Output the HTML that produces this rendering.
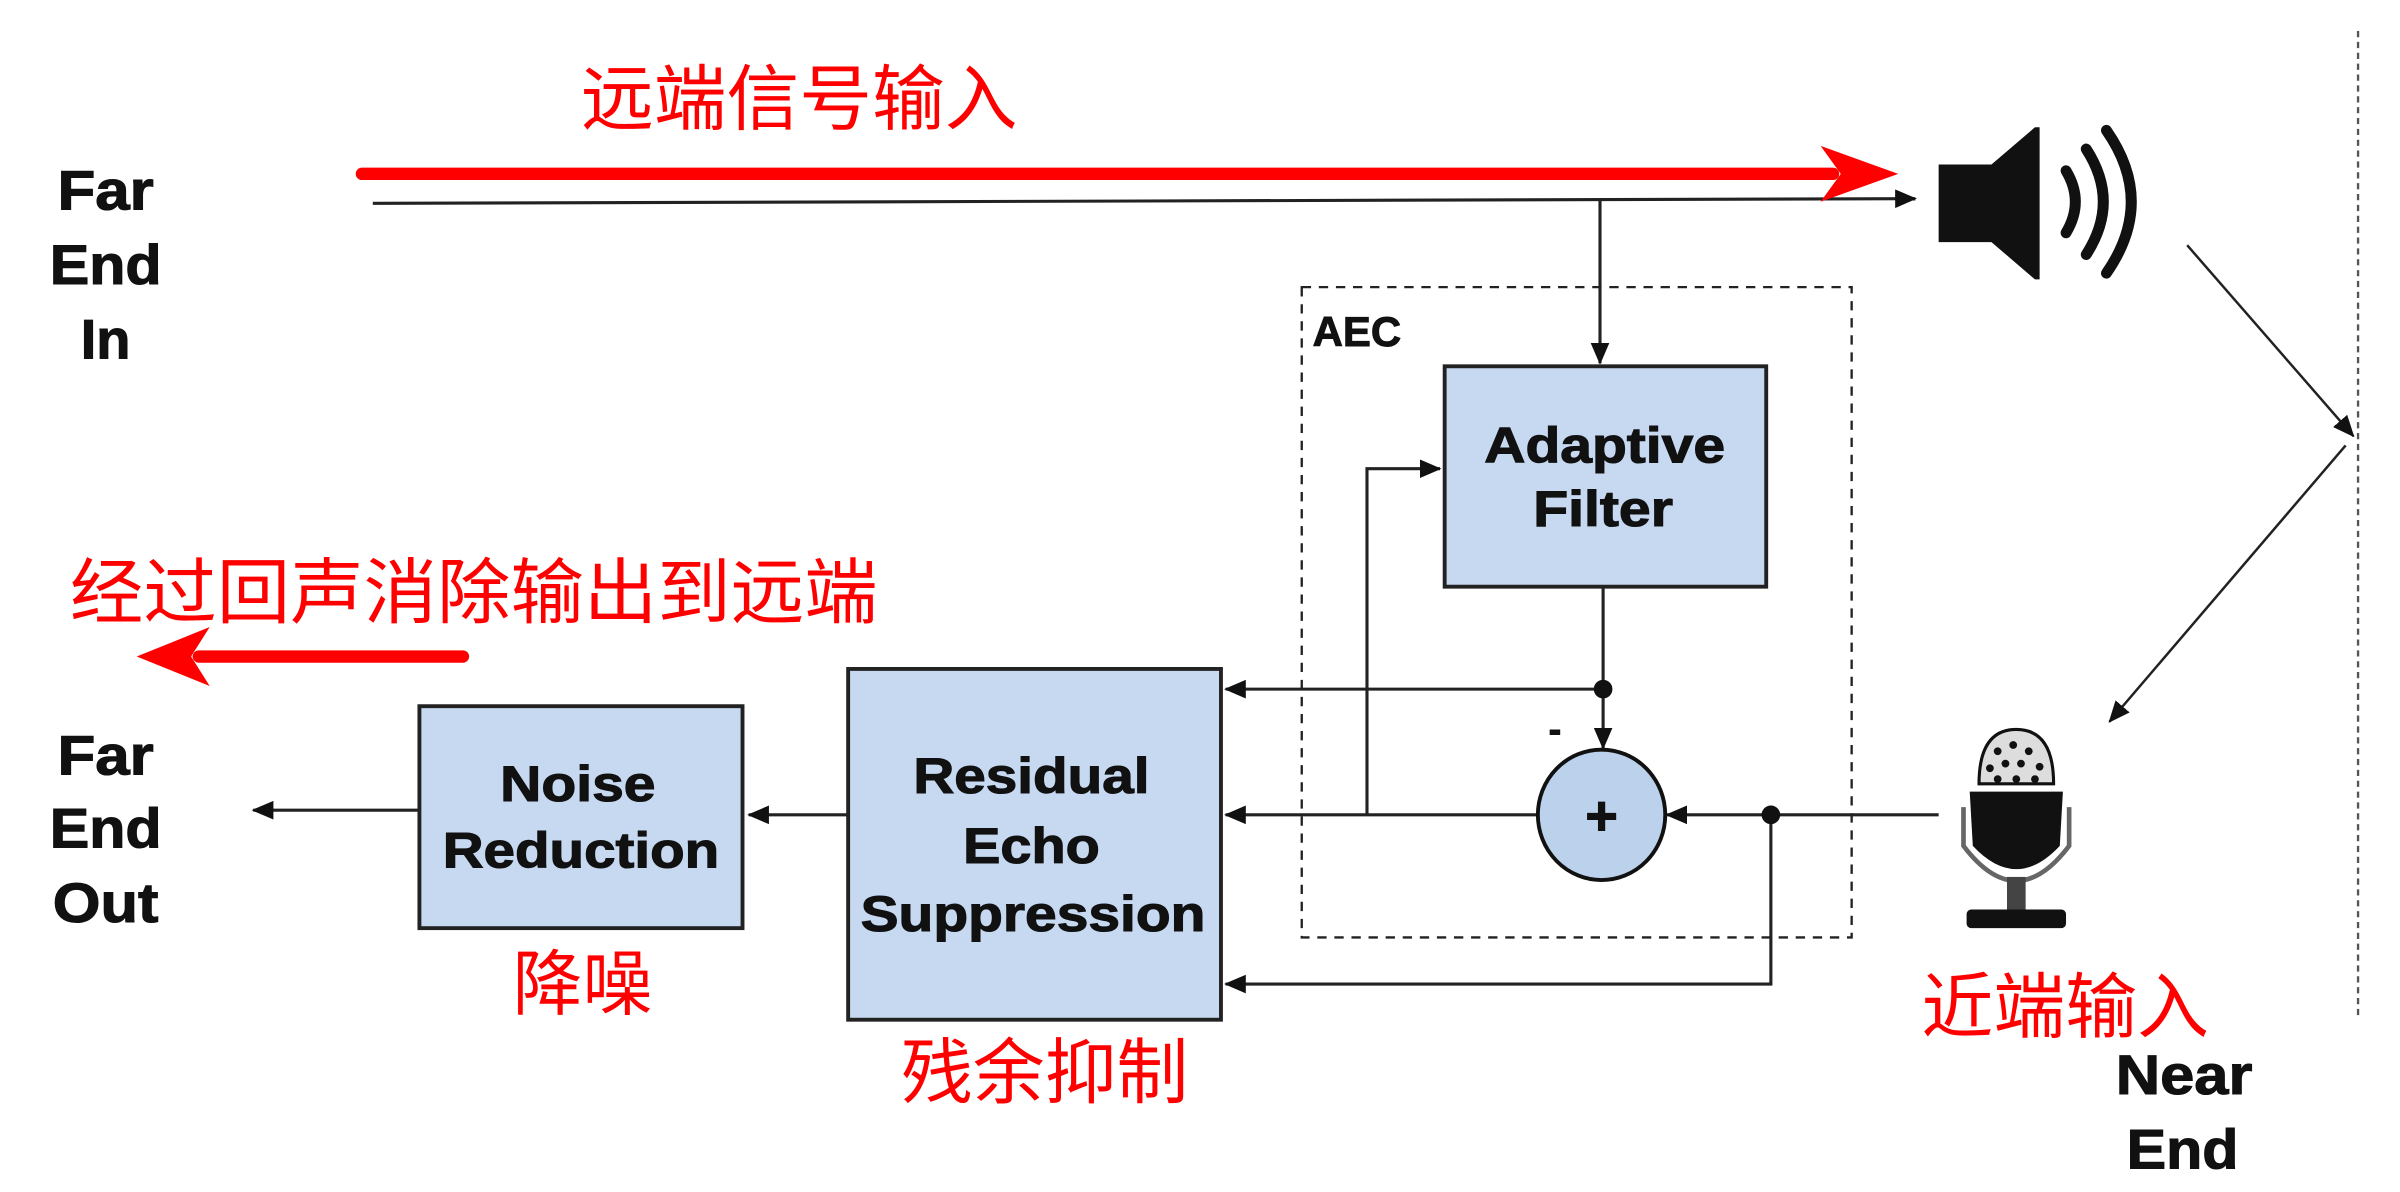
<!DOCTYPE html>
<html><head><meta charset="utf-8"><style>
html,body{margin:0;padding:0;background:#fff;}
svg{display:block;}
.b{font-family:"Liberation Sans",sans-serif;font-weight:bold;fill:#111;text-anchor:middle;stroke:#111;stroke-width:0.7;}
.r{font-family:"Liberation Sans","Noto Sans CJK SC",sans-serif;fill:#f00;}
</style></head><body>
<svg width="2400" height="1192" viewBox="0 0 1545 768" preserveAspectRatio="none" xmlns="http://www.w3.org/2000/svg">
<defs>
<marker id="a2" markerWidth="14" markerHeight="12" refX="13" refY="6" orient="auto" markerUnits="userSpaceOnUse"><path d="M0,0 L14,6 L0,12 Z" fill="#111"/></marker>
</defs>
<g stroke="#222" stroke-width="2" fill="none">
<line x1="240" y1="131" x2="1233" y2="128" marker-end="url(#a2)"/>
<line x1="1030" y1="129" x2="1030" y2="234" marker-end="url(#a2)"/>
<rect x="838" y="185" width="354" height="419" stroke-dasharray="6,5" stroke-width="1.5"/>
<line x1="1032" y1="378" x2="1032" y2="482" marker-end="url(#a2)"/>
<line x1="1032" y1="444" x2="789" y2="444" marker-end="url(#a2)"/>
<line x1="989" y1="525" x2="789" y2="525" marker-end="url(#a2)"/>
<polyline points="880,525 880,302 927,302" marker-end="url(#a2)"/>
<line x1="1248" y1="525" x2="1073" y2="525" marker-end="url(#a2)"/>
<polyline points="1140,525 1140,634 789,634" marker-end="url(#a2)"/>
<line x1="546" y1="525" x2="482" y2="525" marker-end="url(#a2)"/>
<line x1="270" y1="522" x2="163" y2="522" marker-end="url(#a2)"/>
<line x1="1408" y1="158" x2="1515" y2="281" marker-end="url(#a2)" stroke-width="1.6"/>
<line x1="1510" y1="287" x2="1358" y2="465" marker-end="url(#a2)" stroke-width="1.6"/>
<line x1="1518" y1="20" x2="1518" y2="655" stroke-dasharray="4,3" stroke="#555" stroke-width="1.5"/>
</g>
<circle cx="1032" cy="444" r="6" fill="#111"/>
<circle cx="1140" cy="525" r="6" fill="#111"/>
<line x1="233" y1="112" x2="1180" y2="112" stroke="#f00" stroke-width="8" stroke-linecap="round"/>
<path d="M1172,94 L1222,112 L1172,130 L1185,112 Z" fill="#f00"/>
<line x1="298" y1="423" x2="128" y2="423" stroke="#f00" stroke-width="8" stroke-linecap="round"/>
<path d="M135,404 L88,423 L135,442 L123,423 Z" fill="#f00"/>
<rect x="930" y="236" width="207" height="142" fill="#c6d9f1" stroke="#222" stroke-width="2.5"/>
<rect x="546" y="431" width="240" height="226" fill="#c6d9f1" stroke="#222" stroke-width="2.5"/>
<rect x="270" y="455" width="208" height="143" fill="#c6d9f1" stroke="#222" stroke-width="2.5"/>
<ellipse cx="1031" cy="525" rx="41" ry="42" fill="#bcd2ec" stroke="#111" stroke-width="2.5"/>
<text x="1031" y="538" class="b" font-size="36">+</text>
<text x="1001" y="478" class="b" font-size="24">-</text>
<text x="845" y="223" font-family="Liberation Sans,sans-serif" font-weight="bold" font-size="27" fill="#111" stroke="#111" stroke-width="0.6">AEC</text>
<g class="b" font-size="32">
<text x="1033" y="298" textLength="155" lengthAdjust="spacingAndGlyphs">Adaptive</text>
<text x="1032" y="339" textLength="90" lengthAdjust="spacingAndGlyphs">Filter</text>
<text x="664" y="511" textLength="152" lengthAdjust="spacingAndGlyphs">Residual</text>
<text x="664" y="556" textLength="88" lengthAdjust="spacingAndGlyphs">Echo</text>
<text x="665" y="600" textLength="222" lengthAdjust="spacingAndGlyphs">Suppression</text>
<text x="372" y="516" textLength="100" lengthAdjust="spacingAndGlyphs">Noise</text>
<text x="374" y="559" textLength="178" lengthAdjust="spacingAndGlyphs">Reduction</text>
</g>
<g class="b" font-size="36">
<text x="68" y="135" textLength="62" lengthAdjust="spacingAndGlyphs">Far</text>
<text x="68" y="183" textLength="72" lengthAdjust="spacingAndGlyphs">End</text>
<text x="68" y="231" textLength="32" lengthAdjust="spacingAndGlyphs">In</text>
<text x="68" y="499" textLength="62" lengthAdjust="spacingAndGlyphs">Far</text>
<text x="68" y="546" textLength="72" lengthAdjust="spacingAndGlyphs">End</text>
<text x="68" y="594" textLength="68" lengthAdjust="spacingAndGlyphs">Out</text>
<text x="1406" y="705" textLength="88" lengthAdjust="spacingAndGlyphs">Near</text>
<text x="1405" y="753" textLength="72" lengthAdjust="spacingAndGlyphs">End</text>
</g>
<g class="r" font-size="46">
<text x="374" y="80" textLength="281" lengthAdjust="spacingAndGlyphs">远端信号输入</text>
<text x="45" y="398" textLength="520" lengthAdjust="spacingAndGlyphs">经过回声消除输出到远端</text>
<text x="330" y="650" textLength="90" lengthAdjust="spacingAndGlyphs">降噪</text>
<text x="580" y="707" textLength="185" lengthAdjust="spacingAndGlyphs">残余抑制</text>
<text x="1237" y="665" textLength="185" lengthAdjust="spacingAndGlyphs">近端输入</text>
</g>
<path d="M1248,106 L1282,106 L1310,82 L1313,82 L1313,180 L1310,180 L1282,156 L1248,156 Z" fill="#111"/>
<g fill="none" stroke="#111" stroke-width="7" stroke-linecap="round">
<path d="M1330,110 Q1342,130 1330,150"/>
<path d="M1343,96 Q1365,130 1343,164"/>
<path d="M1356,84 Q1388,130 1356,176"/>
</g>
<path d="M1274,505 Q1274,470 1298,470 Q1322,470 1322,505 Z" fill="#ddd" stroke="#111" stroke-width="2"/>
<g fill="#111"><circle cx="1286" cy="484" r="2.5"/><circle cx="1296" cy="480" r="2.5"/><circle cx="1306" cy="484" r="2.5"/><circle cx="1281" cy="495" r="2.5"/><circle cx="1291" cy="492" r="2.5"/><circle cx="1301" cy="492" r="2.5"/><circle cx="1313" cy="494" r="2.5"/><circle cx="1286" cy="502" r="2.5"/><circle cx="1298" cy="502" r="2.5"/><circle cx="1310" cy="502" r="2.5"/></g>
<path d="M1268,510 L1328,510 L1326,545 Q1298,575 1270,545 Z" fill="#111"/>
<path d="M1264,520 L1264,545 Q1298,590 1332,545 L1332,520" fill="none" stroke="#666" stroke-width="3"/>
<rect x="1292" y="565" width="12" height="22" fill="#444"/>
<rect x="1266" y="586" width="64" height="12" rx="3" fill="#111"/>
</svg>
</body></html>
